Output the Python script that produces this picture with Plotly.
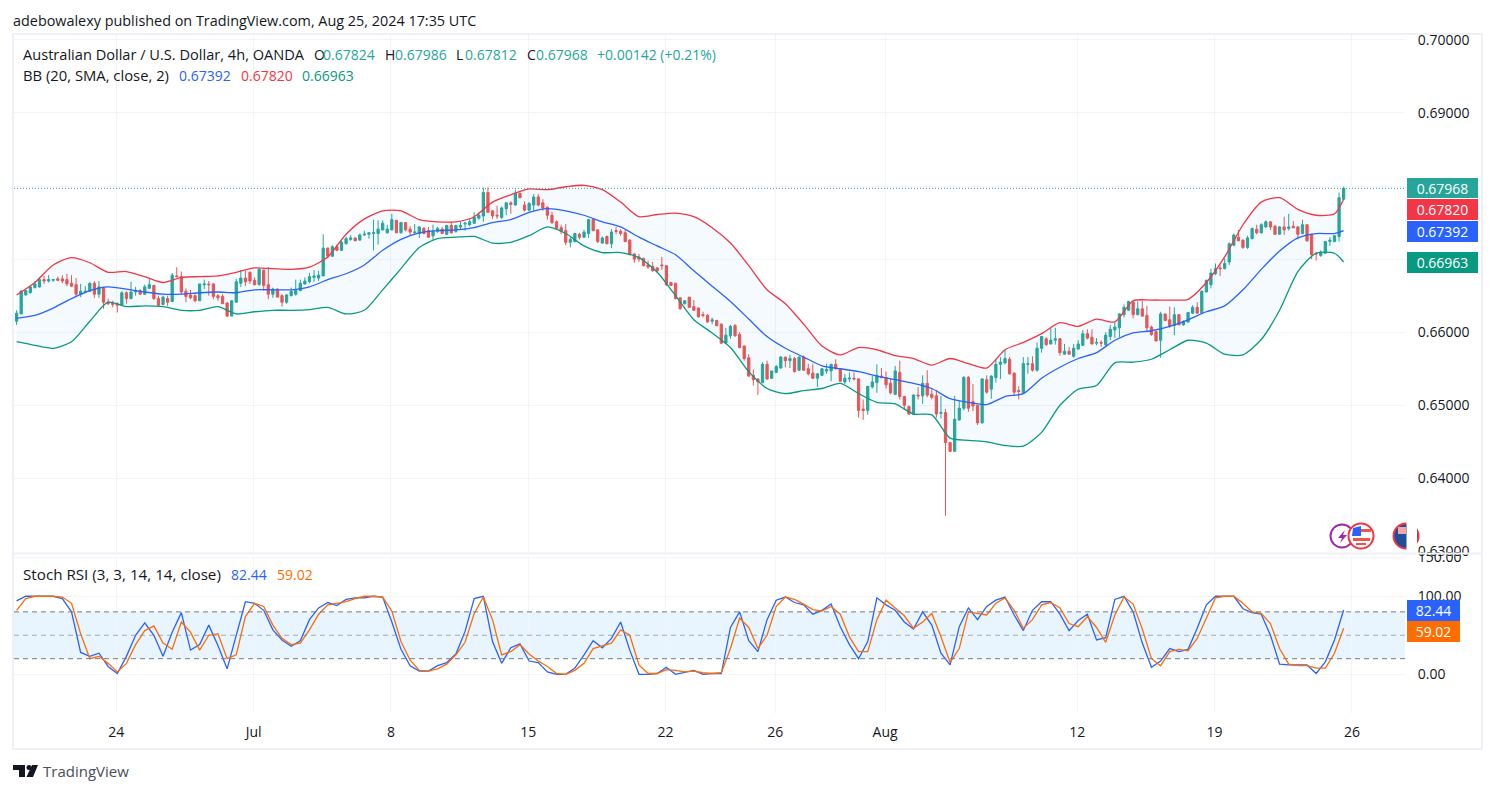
import plotly.graph_objects as go
from plotly.subplots import make_subplots

# AUD/USD 4h, prices in pips (1/10000)
opens = [
    6615,6625,6651,6654,6661,6662,6672,6670,6671,6673, 6673,6672,6667,6665,6652,6655,6656,6667,6652,6661,
    6641,6640,6639,6637,6654,6646,6655,6657,6652,6660, 6664,6646,6638,6646,6642,6677,6676,6656,6651,6650,
    6643,6665,6666,6666,6650,6649,6640,6622,6641,6667, 6674,6682,6671,6665,6685,6665,6652,6659,6650,6641,
    6650,6652,6657,6666,6669,6675,6674,6677,6715,6704, 6717,6712,6721,6727,6729,6726,6733,6734,6735,6735,
    6740,6736,6740,6753,6736,6750,6741,6736,6735,6742, 6739,6732,6738,6741,6734,6746,6738,6744,6748,6747,
    6749,6756,6759,6791,6766,6760,6757,6769,6777,6774, 6790,6774,6767,6774,6785,6777,6771,6760,6751,6743,
    6739,6723,6724,6734,6730,6735,6754,6740,6722,6731, 6721,6739,6738,6736,6726,6707,6703,6701,6692,6690,
    6688,6692,6691,6668,6667,6647,6639,6648,6635,6633, 6624,6623,6615,6616,6611,6585,6595,6609,6597,6581,
    6565,6541,6536,6531,6556,6537,6545,6551,6566,6561, 6564,6548,6566,6550,6544,6537,6541,6547,6547,6556,
    6550,6532,6536,6537,6536,6495,6493,6525,6531,6540, 6538,6530,6515,6545,6512,6498,6488,6514,6513,6530,
    6515,6513,6489,6490,6449,6437,6480,6496,6538,6505, 6500,6476,6535,6522,6538,6556,6558,6563,6544,6520,
    6517,6556,6557,6548,6578,6591,6584,6589,6591,6570, 6574,6567,6577,6582,6598,6593,6585,6586,6583,6594,
    6603,6606,6624,6630,6641,6624,6632,6623,6607,6601, 6589,6625,6617,6609,6624,6610,6614,6626,6634,6626,
    6655,6665,6680,6688,6687,6696,6719,6730,6726,6716, 6728,6741,6736,6744,6751,6745,6734,6744,6742,6745,
    6744,6735,6747,6734,6708,6705,6708,6724,6724,6731,6782,
]
highs = [
    6630,6658,6658,6663,6670,6675,6677,6678,6673,6676, 6678,6680,6678,6674,6666,6663,6668,6670,6670,6662,
    6646,6643,6641,6656,6656,6669,6662,6659,6665,6673, 6665,6650,6650,6650,6681,6689,6683,6660,6658,6652,
    6666,6672,6670,6667,6652,6652,6641,6644,6673,6685, 6684,6683,6675,6687,6685,6689,6661,6660,6652,6652,
    6661,6672,6672,6675,6681,6685,6684,6734,6716,6719, 6720,6725,6731,6733,6729,6735,6739,6737,6754,6753,
    6753,6747,6762,6753,6751,6751,6745,6748,6745,6744, 6744,6747,6744,6744,6747,6751,6747,6751,6751,6755,
    6764,6764,6798,6798,6767,6773,6772,6778,6779,6795, 6791,6779,6778,6789,6789,6782,6772,6765,6753,6747,
    6748,6731,6736,6736,6740,6755,6755,6741,6731,6732, 6741,6744,6741,6741,6727,6708,6707,6702,6698,6696,
    6689,6703,6692,6669,6667,6647,6644,6648,6644,6634, 6628,6625,6620,6617,6612,6606,6610,6611,6600,6582,
    6570,6549,6537,6559,6561,6547,6555,6567,6566,6569, 6566,6567,6568,6557,6557,6544,6551,6557,6557,6563,
    6551,6543,6545,6545,6537,6508,6526,6540,6556,6551, 6546,6536,6554,6561,6513,6500,6515,6525,6541,6548,
    6523,6521,6513,6495,6450,6513,6506,6540,6540,6529, 6501,6537,6541,6541,6564,6566,6576,6566,6545,6526,
    6566,6566,6567,6586,6595,6593,6606,6606,6592,6584, 6580,6584,6589,6603,6604,6604,6592,6589,6600,6610,
    6613,6626,6638,6643,6643,6642,6643,6636,6609,6602, 6628,6625,6635,6634,6625,6616,6627,6637,6641,6657,
    6672,6687,6694,6692,6701,6723,6735,6740,6727,6732, 6743,6747,6749,6753,6752,6747,6745,6758,6762,6752,
    6745,6754,6747,6734,6710,6712,6725,6730,6733,6791,6799,
]
lows = [
    6610,6625,6650,6653,6660,6661,6666,6668,6669,6670, 6667,6663,6662,6648,6648,6653,6655,6647,6647,6632,
    6637,6634,6627,6637,6639,6645,6650,6651,6651,6660, 6644,6636,6637,6636,6641,6675,6652,6641,6645,6641,
    6643,6659,6650,6645,6643,6639,6621,6622,6640,6662, 6663,6666,6664,6664,6657,6645,6647,6648,6635,6639,
    6649,6650,6656,6665,6667,6669,6670,6677,6701,6703, 6711,6711,6720,6725,6725,6725,6732,6728,6712,6720,
    6739,6735,6739,6736,6735,6738,6733,6735,6729,6734, 6729,6725,6736,6735,6733,6735,6736,6741,6739,6745,
    6749,6754,6751,6763,6755,6755,6755,6760,6762,6773, 6783,6765,6765,6766,6772,6766,6754,6748,6741,6734,
    6719,6716,6723,6727,6729,6729,6738,6722,6721,6721, 6715,6734,6732,6723,6705,6695,6696,6690,6687,6683,
    6681,6685,6663,6663,6645,6631,6638,6633,6630,6620, 6620,6613,6611,6608,6584,6585,6591,6594,6578,6561,
    6539,6527,6514,6530,6535,6536,6544,6550,6552,6551, 6545,6547,6547,6541,6536,6525,6540,6543,6533,6549,
    6532,6529,6532,6534,6483,6480,6487,6523,6517,6537, 6523,6515,6514,6508,6494,6487,6487,6508,6502,6511,
    6508,6483,6482,6349,6436,6437,6479,6493,6491,6492, 6473,6475,6516,6509,6531,6536,6556,6542,6514,6508,
    6516,6543,6546,6546,6572,6581,6583,6583,6568,6569, 6570,6565,6576,6581,6590,6583,6582,6580,6581,6589,
    6592,6593,6620,6630,6619,6623,6621,6602,6595,6588, 6565,6615,6606,6596,6610,6609,6613,6625,6625,6625,
    6655,6660,6678,6677,6686,6692,6718,6725,6714,6714, 6727,6734,6735,6743,6740,6733,6734,6733,6739,6742,
    6727,6734,6724,6700,6698,6703,6708,6718,6723,6724,6781,
]
closes = [
    6626,6656,6657,6662,6666,6672,6670,6672,6672,6671, 6670,6666,6663,6652,6656,6656,6667,6652,6662,6641,
    6639,6638,6637,6654,6646,6655,6657,6652,6662,6665, 6646,6637,6648,6641,6678,6676,6655,6649,6647,6643,
    6666,6666,6665,6649,6647,6639,6622,6643,6669,6674, 6669,6670,6665,6686,6664,6652,6659,6648,6641,6651,
    6656,6657,6667,6670,6676,6677,6678,6715,6704,6717, 6712,6723,6728,6729,6725,6733,6734,6736,6736,6741,
    6749,6741,6754,6736,6750,6740,6737,6737,6744,6735, 6730,6738,6742,6735,6746,6736,6746,6746,6749,6751,
    6757,6760,6791,6764,6759,6759,6770,6777,6775,6790, 6784,6767,6776,6785,6774,6770,6760,6750,6742,6738,
    6723,6727,6735,6730,6737,6754,6739,6724,6729,6721, 6737,6738,6735,6724,6706,6700,6700,6691,6689,6684,
    6684,6691,6665,6664,6646,6632,6643,6634,6630,6621, 6623,6614,6617,6609,6585,6596,6608,6595,6579,6564,
    6540,6535,6532,6556,6536,6547,6553,6566,6561,6564, 6546,6566,6548,6543,6537,6543,6550,6549,6556,6550,
    6533,6537,6537,6536,6493,6493,6526,6532,6541,6538, 6528,6517,6547,6512,6500,6488,6514,6513,6530,6514,
    6511,6488,6490,6449,6437,6481,6496,6538,6496,6499, 6476,6536,6518,6540,6556,6559,6564,6543,6518,6519,
    6557,6557,6548,6578,6594,6583,6589,6591,6572,6574, 6570,6578,6584,6598,6592,6584,6586,6585,6596,6604,
    6607,6625,6634,6642,6624,6632,6622,6606,6597,6588, 6625,6616,6608,6624,6610,6615,6627,6634,6626,6656,
    6671,6681,6687,6687,6694,6721,6733,6725,6716,6729, 6742,6736,6747,6751,6744,6734,6744,6740,6744,6743,
    6734,6747,6725,6706,6707,6709,6724,6726,6732,6784,6797,
]

# Bollinger bands, read every 4th bar
bb_bars = list(range(0, 289, 4)) + [290]
bb_upper = [
    6651,6668,6692,6702,6695,6682,6683,6676,6668,6675,6676,6677,6682,6688,6687,6686,6689,6703,
    6734,6755,6766,6766,6754,6751,6751,6758,6778,6788,6796,6795,6799,6801,6795,6778,6758,6761,6763,
    6758,6743,6722,6691,6658,6639,6611,6581,6569,6579,6576,6568,6564,6555,6564,6557,6551,6576,
    6586,6598,6613,6608,6618,6614,6643,6644,6644,6645,6668,6703,6747,6778,6784,6768,6760,6762,6782,
]
bb_middle = [
    6619,6623,6633,6646,6657,6662,6659,6655,6652,6652,6654,6655,6654,6658,6658,6658,6662,6672,
    6680,6692,6712,6727,6736,6739,6740,6743,6750,6754,6764,6769,6766,6760,6751,6744,6730,6718,6706,
    6684,6663,6642,6618,6594,6578,6566,6554,6550,6546,6540,6535,6530,6523,6509,6504,6501,6512,
    6516,6537,6552,6564,6572,6589,6599,6602,6608,6617,6628,6636,6658,6686,6711,6729,6735,6735,6739,
]
bb_lower = [
    6587,6582,6578,6587,6615,6641,6635,6636,6635,6630,6630,6635,6625,6628,6630,6630,6631,6634,
    6625,6630,6658,6687,6716,6728,6730,6731,6722,6723,6732,6744,6735,6718,6709,6709,6702,6682,6650,
    6617,6599,6579,6546,6523,6516,6520,6523,6530,6516,6504,6502,6488,6487,6455,6452,6450,6445,
    6444,6463,6500,6522,6527,6558,6559,6563,6576,6589,6585,6570,6569,6590,6630,6683,6708,6708,6696,
]

# Stoch RSI, read every 2nd bar
stoch_bars = list(range(0, 291, 2))
stoch_k = [
    94,100,100,100,100,97,80,28,23,27, 10,1,23,50,66,50,23,54,79,31,
    38,63,37,7,50,93,91,82,57,44, 36,43,70,85,92,88,96,98,98,100,
    99,67,32,11,4,4,11,15,26,55, 97,100,42,14,34,39,17,15,3,0,
    0,8,25,43,34,46,67,31,0,0, 1,9,0,3,5,0,1,1,60,80,
    43,29,70,95,99,92,89,77,82,90, 61,38,20,42,98,89,82,67,58,80,
    63,27,12,61,85,70,87,95,99,76, 56,82,93,93,77,56,69,77,44,47,
    96,100,80,40,9,17,33,29,32,59, 89,100,100,100,84,79,77,50,13,12,
    12,12,1,16,44,82.44,
]
stoch_d = [
    82,97,100,100,100,99,91,52,20,23, 14,3,14,38,56,62,40,32,67,54,
    31,50,52,20,25,74,91,87,63,46, 38,40,57,77,89,91,93,97,100,100,
    99,81,42,18,5,4,7,13,25,41, 78,99,70,25,29,38,26,17,10,1,
    0,5,14,33,36,40,57,50,12,1, 1,6,5,3,4,2,1,2,33,72,
    60,33,50,87,99,96,90,83,81,87, 77,48,29,29,70,95,85,75,59,67,
    78,48,15,33,80,78,76,91,98,82, 59,70,89,92,85,65,61,74,60,41,
    76,99,90,58,20,11,29,32,30,46, 72,98,100,100,91,80,78,65,33,13,
    11,11,8,8,27,59.02,
]

tick_bars = [21.8, 51.8, 81.8, 111.8, 141.8, 165.8, 189.8, 231.8, 261.8, 291.8]
tick_text = ["24", "Jul", "8", "15", "22", "26", "Aug", "12", "19", "26"]
price_ticks = [0.70, 0.69, 0.68, 0.67, 0.66, 0.65, 0.64, 0.63]
last_price = 0.67968

W, H = 1496, 793
FONT = "Open Sans"
TXT = "#131722"
GRID = "#f3f4f7"
FRAME = "#eff0f6"
UP, DOWN = "#26a69a", "#ef5350"
RED, BLUE, GREEN, ORANGE = "#f23645", "#2962ff", "#089981", "#ff6d00"


def px(x):
    return x / W


def py(y):
    return 1 - y / H


def to_price(vals):
    return [v / 10000 for v in vals]


fig = make_subplots(rows=2, cols=1, shared_xaxes=True)

# candles first so the bands sit on top of them
bars = list(range(len(opens)))
fig.add_trace(go.Candlestick(
    x=bars, open=to_price(opens), high=to_price(highs), low=to_price(lows), close=to_price(closes),
    increasing=dict(line=dict(color=UP, width=1), fillcolor=UP),
    decreasing=dict(line=dict(color=DOWN, width=1), fillcolor=DOWN),
    whiskerwidth=0, hoverinfo="skip",
), row=1, col=1)

band_line = dict(width=1.3, shape="spline", smoothing=0.7)
fig.add_trace(go.Scatter(x=bb_bars, y=to_price(bb_lower), mode="lines", line=dict(color=GREEN, **band_line)), row=1, col=1)
fig.add_trace(go.Scatter(x=bb_bars, y=to_price(bb_upper), mode="lines", line=dict(color=RED, **band_line),
                         fill="tonexty", fillcolor="rgba(33,150,243,0.05)"), row=1, col=1)
fig.add_trace(go.Scatter(x=bb_bars, y=to_price(bb_middle), mode="lines", line=dict(color=BLUE, **band_line)), row=1, col=1)

fig.add_trace(go.Scatter(x=stoch_bars, y=stoch_k, mode="lines", line=dict(color=BLUE, width=1.3)), row=2, col=1)
fig.add_trace(go.Scatter(x=stoch_bars, y=stoch_d, mode="lines", line=dict(color=ORANGE, width=1.3)), row=2, col=1)

fig.add_hline(y=last_price, line=dict(color=UP, width=1, dash="1px,2px"), row=1, col=1)
fig.add_hrect(y0=20, y1=80, fillcolor="rgba(33,150,243,0.1)", line_width=0, layer="below", row=2, col=1)
fig.add_hline(y=80, line=dict(color="#787b86", width=1, dash="5px,4px"), row=2, col=1)
fig.add_hline(y=50, line=dict(color="rgba(120,123,134,0.6)", width=1, dash="5px,4px"), row=2, col=1)
fig.add_hline(y=20, line=dict(color="#787b86", width=1, dash="5px,4px"), row=2, col=1)

x_range = [(14 - 16.6) / 4.576, (1405 - 16.6) / 4.576]
axis_style = dict(showgrid=True, gridcolor=GRID, gridwidth=1, zeroline=False, showline=False, automargin=False)
fig.update_xaxes(range=x_range, domain=[px(14), px(1405)], tickvals=tick_bars, ticktext=tick_text,
                 rangeslider_visible=False, ticks="outside", ticklen=6, tickcolor="rgba(0,0,0,0)",
                 tickfont=dict(family=FONT, size=14, color=TXT), **axis_style)
fig.update_xaxes(showticklabels=False, ticks="", row=1, col=1)
fig.update_yaxes(side="right", range=[0.62993, 0.70066], domain=[py(552), py(35)], tickvals=price_ticks,
                 tickformat=".5f", ticks="outside", ticklen=9, tickcolor="rgba(0,0,0,0)",
                 tickfont=dict(family=FONT, size=14, color=TXT), row=1, col=1, **axis_style)
fig.update_yaxes(side="right", range=[-49.6, 151.6], domain=[py(713), py(556)], tickvals=[0, 100, 150],
                 tickformat=".2f", ticks="outside", ticklen=9, tickcolor="rgba(0,0,0,0)",
                 tickfont=dict(family=FONT, size=14, color=TXT), row=2, col=1, **axis_style)


def label(text, x, y, color=TXT, size=14):
    fig.add_annotation(text=text, xref="paper", yref="paper", x=px(x), y=py(y), xanchor="left", yanchor="middle",
                       showarrow=False, borderpad=0, borderwidth=0, font=dict(family=FONT, size=size, color=color))


def tag(text, x0, x1, y0, y1, bg):
    fig.add_annotation(text=text, xref="paper", yref="paper", x=px((x0 + x1) / 2), y=py((y0 + y1) / 2),
                       xanchor="center", yanchor="middle", showarrow=False, width=x1 - x0, height=y1 - y0,
                       bgcolor=bg, borderpad=0, borderwidth=0, align="center",
                       font=dict(family=FONT, size=14, color="white"))


label("adebowalexy published on TradingView.com, Aug 25, 2024 17:35 UTC", 13, 20, size=14.4)
label("Australian Dollar / U.S. Dollar, 4h, OANDA", 23, 54, size=14.6)
for letter, lx, value, vx in [("O", 314, "0.67824", 323), ("H", 385, "0.67986", 395),
                              ("L", 456, "0.67812", 465), ("C", 527, "0.67968", 536)]:
    label(letter, lx, 54)
    label(value, vx, 54, UP)
label("+0.00142 (+0.21%)", 597, 54, UP)
label("BB (20, SMA, close, 2)", 23, 75, size=14.8)
label("0.67392", 179, 75, BLUE)
label("0.67820", 241, 75, RED)
label("0.66963", 302, 75, GREEN)
label("Stoch RSI (3, 3, 14, 14, close)", 23, 574, size=15.2)
label("82.44", 231, 574, BLUE)
label("59.02", 277, 574, ORANGE)
label("TradingView", 43, 771, "#4a4e59", 15)

tag("0.67968", 1407, 1478, 178, 198, UP)
tag("0.67820", 1407, 1478, 199, 220, RED)
tag("0.67392", 1407, 1478, 221, 242, BLUE)
tag("0.66963", 1407, 1478, 252, 273, GREEN)
tag("82.44", 1407, 1460, 600, 621, BLUE)
tag("59.02", 1407, 1460, 621, 642, ORANGE)


def pbox(x0, y0, x1, y1, **kw):
    fig.add_shape(type="rect", xref="paper", yref="paper", x0=px(x0), x1=px(x1), y0=py(y0), y1=py(y1), **kw)


def pcircle(cx, cy, r, **kw):
    fig.add_shape(type="circle", xref="paper", yref="paper", x0=px(cx - r), x1=px(cx + r),
                  y0=py(cy + r), y1=py(cy - r), **kw)


def ppath(points, fill):
    d = "M" + " L".join(f"{px(a):.5f},{py(b):.5f}" for a, b in points) + " Z"
    fig.add_shape(type="path", path=d, xref="paper", yref="paper", fillcolor=fill, line_width=0)


# chart frame
pbox(13, 34, 1482, 749, line=dict(color=FRAME, width=2))
fig.add_shape(type="line", xref="paper", yref="paper", x0=px(13), x1=px(1482), y0=py(553.5), y1=py(553.5),
              line=dict(color=FRAME, width=2))

# event icons
PURPLE = "#9c27b0"
pcircle(1342, 536, 11.5, line=dict(color=PURPLE, width=2), fillcolor="white")
ppath([(1345, 530), (1338, 538), (1342, 538), (1340, 543), (1347, 535), (1343, 535)], PURPLE)
pcircle(1361, 536, 12.5, line=dict(color=RED, width=2), fillcolor="white")
ppath([(1353, 528), (1361, 526), (1361, 536), (1352, 536)], "#2962ff")
pbox(1361, 529, 1371, 532, fillcolor="#ef5350", line_width=0)
pbox(1353, 538, 1370, 541, fillcolor="#ef5350", line_width=0)
pbox(1356, 543, 1366, 545, fillcolor="#ef5350", line_width=0)
# australian flag, clipped by the price scale
pcircle(1406, 536, 12.5, line=dict(color=RED, width=2), fillcolor="#1e4f9c")
pbox(1398, 527, 1406, 534, fillcolor="#f4a5a5", line_width=0)
pbox(1406.5, 520, 1417, 552, fillcolor="white", line_width=0)

# TradingView logo
ppath([(13, 765), (25, 765), (25, 777), (19, 777), (19, 770), (13, 770)], "#131722")
pcircle(29, 767.5, 2.5, fillcolor="#131722", line_width=0)
ppath([(32, 765), (38, 765), (33, 777), (26.5, 777)], "#131722")

fig.update_layout(
    width=W, height=H, margin=dict(l=0, r=0, t=0, b=0), paper_bgcolor="white", plot_bgcolor="white",
    showlegend=False, hovermode=False,
)

fig.write_html("out.html", config=dict(displayModeBar=False),
               post_script="document.body.style.margin='0';")
